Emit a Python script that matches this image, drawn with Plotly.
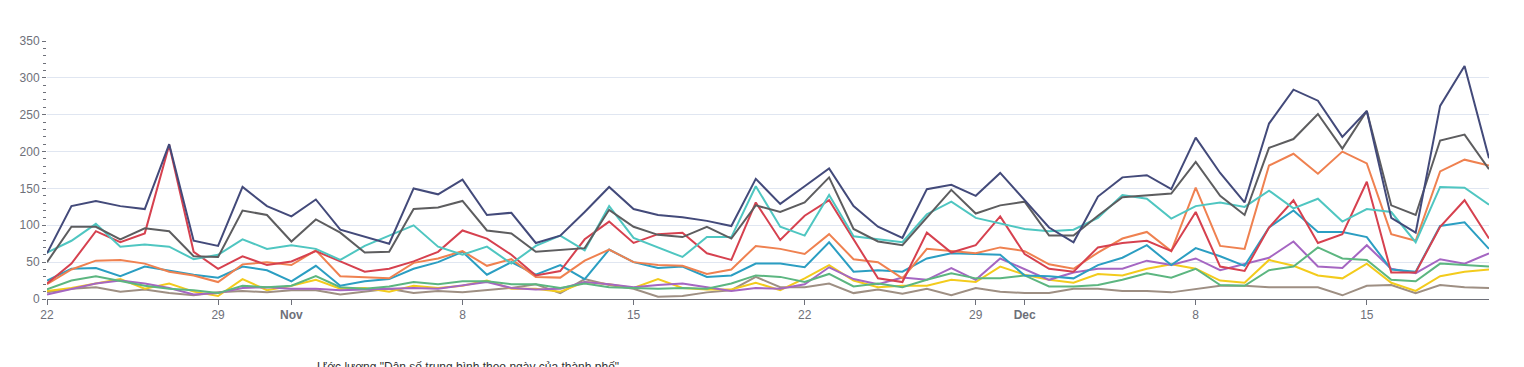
import pandas as pd
import plotly.graph_objects as go

dates = pd.date_range("2023-10-22", periods=60, freq="D")

tick_dates = ["2023-10-22", "2023-10-29", "2023-11-01", "2023-11-08", "2023-11-15",
              "2023-11-22", "2023-11-29", "2023-12-01", "2023-12-08", "2023-12-15"]
tick_labels = ["22", "29", "<b>Nov</b>", "8", "15", "22", "29", "<b>Dec</b>", "8", "15"]

s_navy = [62,126,133,126,122,210,79,72,152,126,112,135,94,85,75,150,142,162,114,117,76,86,118,152,122,114,111,106,99,163,129,
          153,177,126,98,83,149,155,140,171,134,97,77,139,165,168,149,219,171,131,238,284,269,220,255,110,90,262,316,191]
s_gray = [50,98,98,81,96,92,58,57,120,114,78,108,90,63,64,122,124,133,93,89,64,67,69,121,98,87,84,98,82,127,118,
          131,165,95,78,73,110,148,116,127,132,86,86,113,138,141,143,186,140,114,205,217,251,204,255,127,114,215,223,176]
s_cyan = [63,79,102,71,74,71,54,60,81,68,73,68,53,72,86,100,71,60,71,48,72,86,66,126,83,70,57,84,84,153,98,
          86,141,85,81,77,115,132,110,103,95,92,94,110,141,136,109,126,131,125,147,123,136,105,122,118,77,152,151,128]
s_red = [21,48,92,77,89,209,64,41,58,46,51,65,51,37,41,51,64,93,82,60,32,38,81,105,76,88,90,62,53,131,80,
         113,134,81,28,23,90,63,73,112,61,41,37,70,76,79,65,118,44,38,97,134,76,88,159,36,36,98,134,82]
s_orange = [20,40,52,53,48,37,32,23,47,50,46,66,31,30,28,49,55,65,45,54,30,29,52,67,50,46,45,34,40,72,68,
            61,88,54,50,28,68,65,62,70,65,47,41,63,82,91,65,151,72,68,181,197,170,200,184,88,79,173,189,181]
s_blue = [25,41,42,31,44,38,33,29,44,39,24,45,18,24,27,41,50,64,33,50,33,46,27,67,50,42,44,30,32,48,48,
          43,77,37,39,37,55,62,61,60,32,31,28,46,56,73,46,69,58,45,97,120,91,91,84,40,37,99,104,68]
s_green = [13,25,31,25,18,14,12,8,18,16,18,31,16,14,17,23,20,24,24,20,20,15,21,16,15,14,15,14,21,32,30,
           23,34,17,21,16,26,35,28,28,32,17,17,19,26,35,29,41,19,18,39,44,70,55,53,26,24,48,46,44]
s_purple = [6,14,21,25,21,15,6,8,15,16,14,14,12,13,14,15,14,18,23,15,13,14,23,20,16,19,21,16,11,15,14,
            20,43,27,20,29,26,42,26,55,40,26,36,41,41,52,46,55,39,47,56,78,44,42,73,41,35,54,48,62]
s_yellow = [11,15,21,27,14,21,10,4,27,12,18,26,14,15,10,18,15,18,25,14,14,10,23,20,15,27,15,13,13,22,12,
            28,46,25,16,18,18,26,23,44,33,26,22,34,32,41,47,41,25,22,53,45,32,28,48,22,11,31,37,40]
s_taupe = [9,14,16,10,13,8,5,9,11,9,12,12,6,10,14,8,11,9,12,15,20,8,27,19,14,3,4,9,12,30,16,
           16,21,8,13,7,14,5,15,10,8,8,14,14,11,11,9,13,18,18,16,16,16,5,18,19,8,19,16,15]

series = [
    ("Taupe", s_taupe, "#9e8f83"),
    ("Yellow", s_yellow, "#f3cb1c"),
    ("Purple", s_purple, "#a566c2"),
    ("Green", s_green, "#5cb680"),
    ("Blue", s_blue, "#2b9ec2"),
    ("Orange", s_orange, "#ef8150"),
    ("Red", s_red, "#d6414f"),
    ("Cyan", s_cyan, "#4fc6c1"),
    ("Gray", s_gray, "#5d5d5f"),
    ("Navy", s_navy, "#434a7a"),
]

legend_text = 'Ước lượng "Dân số trung bình theo ngày của thành phố"'

fig = go.Figure()
for name, vals, color in series:
    fig.add_trace(go.Scatter(x=dates, y=vals, mode="lines", name=name,
                             line=dict(color=color, width=2), showlegend=False))

axis_color = "#6e7079"
fig.update_layout(
    width=1516, height=359,
    margin=dict(l=37, r=35, t=33, b=68),
    paper_bgcolor="white", plot_bgcolor="white",
    font=dict(family="Liberation Sans, Arial, sans-serif", size=12, color=axis_color),
    xaxis=dict(
        type="date",
        range=[dates[0], dates[-1]],
        tickmode="array", tickvals=tick_dates, ticktext=tick_labels,
        showgrid=False, showline=True, linecolor=axis_color, linewidth=1,
        ticks="outside", ticklen=5, tickcolor=axis_color,
        tickfont=dict(size=12, color=axis_color),
        zeroline=False,
    ),
    yaxis=dict(
        range=[0, 350], tickvals=[0, 50, 100, 150, 200, 250, 300, 350],
        showgrid=True, gridcolor="#e0e6f1", gridwidth=1,
        showline=False, zeroline=False,
        ticks="outside", ticklen=4, tickcolor=axis_color,
        minor=dict(ticks="outside", ticklen=3, dtick=10, tickcolor=axis_color, showgrid=False),
        tickfont=dict(size=12, color=axis_color),
    ),
    annotations=[dict(
        text=legend_text, xref="paper", yref="paper",
        x=(313 - 45) / 1444, y=-59 / 258, xanchor="left", yanchor="top",
        showarrow=False, font=dict(size=12, color="#333333"),
    )],
)

fig.write_html("out.html")
